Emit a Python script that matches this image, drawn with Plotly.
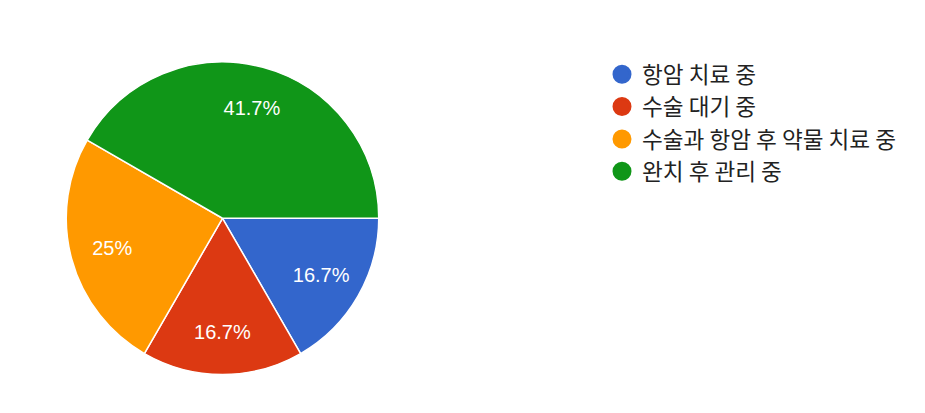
import plotly.graph_objects as go

categories = ["항암 치료 중", "수술 대기 중", "수술과 항암 후 약물 치료 중", "완치 후 관리 중"]
counts = [2, 2, 3, 5]
colors = ["#3366CC", "#DC3912", "#FF9900", "#109618"]

W, H = 925, 413
OFF = 8  # page body margin
dom = dict(x=[(66 - OFF) / W, (379 - OFF) / W], y=[1 - (374.5 - OFF) / H, 1 - (62 - OFF) / H])

fig = go.Figure()
fig.add_trace(go.Pie(
    labels=categories, values=counts, sort=False, direction="clockwise", rotation=90,
    marker=dict(colors=colors, line=dict(color="white", width=1.5)),
    textinfo="none", showlegend=False, hoverinfo="label+percent", domain=dom,
))
# transparent ring overlay carrying the percentage labels
fig.add_trace(go.Pie(
    labels=categories, values=counts, sort=False, direction="clockwise", rotation=90,
    hole=0.46, marker=dict(colors=["rgba(0,0,0,0)"] * 4, line=dict(width=0)),
    textinfo="percent", texttemplate="%{percent:.3~p}", textposition="inside",
    insidetextorientation="horizontal",
    textfont=dict(family="Liberation Sans, Arial, sans-serif", size=20, color="white"),
    showlegend=False, hoverinfo="skip", domain=dom,
))
for i, (c, col) in enumerate(zip(categories, colors)):
    fig.add_trace(go.Scatter(
        x=[None], y=[None], mode="markers", name=c, legendgroup=f"g{i}",
        marker=dict(symbol="circle", size=16, color=col, line=dict(color=col, width=3)),
    ))

fig.update_layout(
    width=W, height=H, margin=dict(l=0, r=0, t=0, b=0),
    paper_bgcolor="white", plot_bgcolor="white",
    xaxis=dict(visible=False), yaxis=dict(visible=False),
    legend=dict(x=594 / W, y=1 - 45 / H, xanchor="left", yanchor="top",
                font=dict(family="Noto Sans CJK KR, sans-serif", size=22.6, color="#222222"),
                tracegroupgap=0, bgcolor="rgba(0,0,0,0)"),
)
fig.write_html("out.html")
